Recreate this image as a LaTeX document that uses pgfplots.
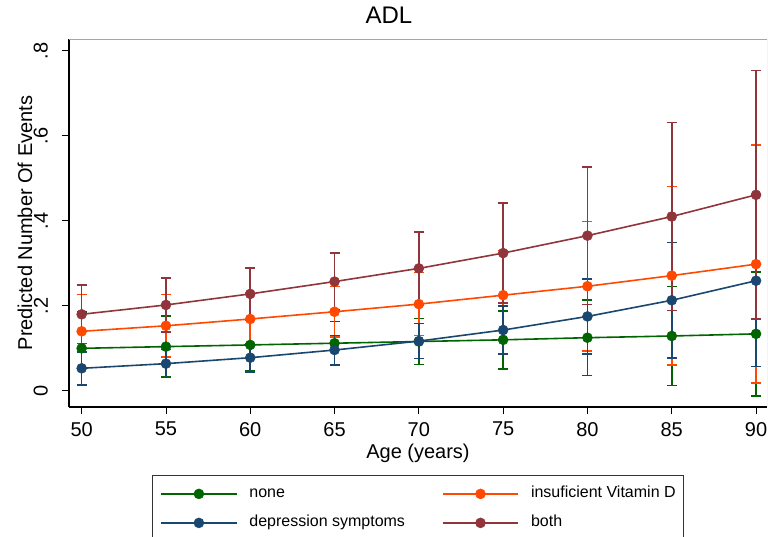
\documentclass[border=0pt]{standalone}
\usepackage{fontspec}
\setmainfont{Liberation Sans}
\usepackage{pgfplots}
\pgfplotsset{compat=1.18}
\usepackage{pgfplotstable}

\definecolor{cnone}{RGB}{0,100,0}
\definecolor{cvitd}{RGB}{255,72,0}
\definecolor{cdep}{RGB}{26,71,111}
\definecolor{cboth}{RGB}{144,53,59}

% age, predicted events, half width of CI
\pgfplotstableread{
x  y     e
50 0.100 0.086
55 0.104 0.072
60 0.108 0.060
65 0.112 0.051
70 0.116 0.054
75 0.120 0.068
80 0.125 0.089
85 0.129 0.116
90 0.134 0.146
}\tnone
\pgfplotstableread{
x  y     e
50 0.140 0.087
55 0.153 0.074
60 0.169 0.062
65 0.186 0.059
70 0.204 0.074
75 0.225 0.105
80 0.246 0.152
85 0.271 0.210
90 0.298 0.280
}\tvitd
\pgfplotstableread{
x  y     e
50 0.053 0.039
55 0.064 0.033
60 0.078 0.033
65 0.096 0.034
70 0.117 0.041
75 0.143 0.057
80 0.175 0.088
85 0.213 0.136
90 0.259 0.202
}\tdep
\pgfplotstableread{
x  y     e
50 0.180 0.069
55 0.202 0.063
60 0.228 0.061
65 0.257 0.067
70 0.288 0.086
75 0.324 0.118
80 0.365 0.162
85 0.410 0.221
90 0.461 0.292
}\tboth

\pgfplotsset{
  cis/.style={forget plot, draw=none, no markers,
    error bars/.cd, y dir=both, y explicit,
    error bar style={draw=#1, line width=1.6pt},
    error mark options={rotate=90, draw=#1, mark size=5pt, line width=1.6pt}},
  ser/.style={draw=#1, line width=1.6pt, mark=*, mark size=5pt,
    mark options={fill=#1, draw=#1, line width=0.5pt}},
}

\begin{document}
\begin{tikzpicture}
\begin{axis}[
  scale only axis, width=698pt, height=368pt,
  xmin=49.25, xmax=90.65, ymin=-0.038, ymax=0.8275,
  axis lines=left, axis line style={-, line width=1.2pt},
  tick align=outside, major tick length=7pt,
  tick style={black, line width=0.8pt},
  xtick={50,55,...,90},
  ytick={0,0.2,0.4,0.6,0.8}, yticklabels={0,.2,.4,.6,.8},
  /pgf/number format/assume math mode=true,
  ticklabel style={font=\fontsize{20}{24}\selectfont},
  xticklabel style={anchor=north, inner sep=0pt, yshift=-8pt},
  yticklabel style={rotate=90, anchor=south, inner sep=0pt, yshift=14pt},
  title={ADL},
  title style={font=\fontsize{24}{28}\selectfont, at={(0.5,1)}, anchor=base, yshift=9.7pt, xshift=-29pt},
  xlabel={Age (years)},
  xlabel style={font=\fontsize{20}{24}\selectfont, at={(axis description cs:0.5,-0.139)}, anchor=base},
  ylabel={Predicted Number Of Events},
  ylabel style={font=\fontsize{20}{24}\selectfont, at={(axis description cs:-0.063,0.5)}, anchor=center},
  legend columns=2,
  legend cell align=left,
  legend image code/.code={\draw[mark repeat=2, mark phase=2] plot coordinates {(0pt,0pt) (37.7pt,0pt) (75.4pt,0pt)};},
  legend style={at={(0,0)}, anchor=north west, xshift=83pt, yshift=-68pt,
    draw=black!80, line width=0.8pt, font=\fontsize{16}{19}\selectfont,
    inner xsep=8pt, inner ysep=9pt, row sep=10pt, column sep=0pt,
    nodes={inner xsep=0pt, inner ysep=2pt, text height=11.5pt, text depth=3.5pt},
    /tikz/every odd column/.append style={column sep=12pt},
    /tikz/every even column/.append style={column sep=37pt}},
]
\draw[gray!70, line width=1pt] (rel axis cs:0,1) -- (rel axis cs:1,1) -- (rel axis cs:1,0);
\addplot[cis=cnone] table[x=x, y=y, y error=e] {\tnone};
\addplot[cis=cvitd] table[x=x, y=y, y error=e] {\tvitd};
\addplot[cis=cdep] table[x=x, y=y, y error=e] {\tdep};
\addplot[cis=cboth] table[x=x, y=y, y error=e] {\tboth};
\addplot[ser=cnone] table[x=x, y=y] {\tnone};
\addlegendentry{none}
\addplot[ser=cvitd] table[x=x, y=y] {\tvitd};
\addlegendentry{insuficient Vitamin D\hspace{6pt}}
\addplot[ser=cdep] table[x=x, y=y] {\tdep};
\addlegendentry{depression symptoms}
\addplot[ser=cboth] table[x=x, y=y] {\tboth};
\addlegendentry{both}
\end{axis}
\pgfresetboundingbox
\path[use as bounding box] (-69pt,-129pt) rectangle (699pt,407pt);
\end{tikzpicture}
\end{document}
